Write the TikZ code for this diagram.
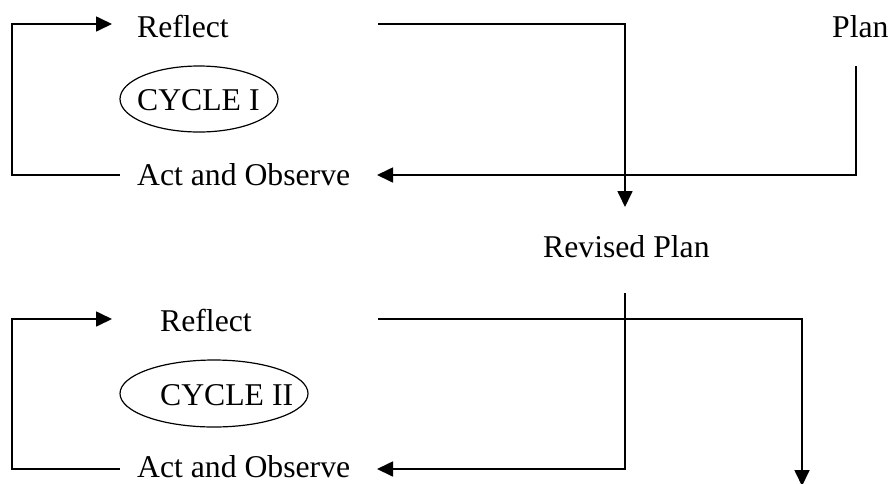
\documentclass[tikz,border=0pt]{standalone}
\usepackage{fontspec}
\setmainfont{Liberation Serif}
\usetikzlibrary{arrows.meta,shapes.geometric}

\tikzset{
  lbl/.style={anchor=base west, inner sep=0pt, font=\fontsize{31.7}{36}\selectfont},
  flow/.style={line width=1.7pt},
  flowarr/.style={flow, -{Triangle[length=16pt,width=15pt]}},
  cyc/.style={draw, ellipse, line width=1.2pt, inner sep=0pt}
}

\begin{document}
\begin{tikzpicture}[x=1pt, y=-1pt]
  \useasboundingbox (0,0) rectangle (891,483);

  % ---- Cycle I ----
  \node[lbl] (reflect1) at (137,37) {Reflect};
  \node[lbl] (act1) at (137,185) {Act and Observe};
  \node[cyc, minimum width=158pt, minimum height=66pt] (ell1) at (199,99) {};
  \node[lbl] (cycle1) at (137,110) {CYCLE I};
  \node[lbl] (plan) at (832,37) {Plan};

  % ---- Cycle II ----
  \node[lbl] (revised) at (543,257) {Revised Plan};
  \node[lbl] (reflect2) at (160,331) {Reflect};
  \node[cyc, minimum width=188pt, minimum height=67pt] (ell2) at (214,393.5) {};
  \node[lbl] (cycle2) at (160,405) {CYCLE II};
  \node[lbl] (act2) at (137,477) {Act and Observe};

  % connector end points and corners
  \coordinate (r1in)   at (112,24);
  \coordinate (r1out)  at (378,24);
  \coordinate (a1out)  at (120,175);
  \coordinate (a1in)   at (377,175);
  \coordinate (lc1)    at (12,175);
  \coordinate (drop1)  at (625,207);
  \coordinate (planft) at (856,66);

  \coordinate (revft)  at (625,293);
  \coordinate (r2in)   at (112,319);
  \coordinate (r2out)  at (378,319);
  \coordinate (a2out)  at (120,469);
  \coordinate (a2in)   at (377,469);
  \coordinate (lc2)    at (12,469);
  \coordinate (drop2)  at (802,486);

  % Cycle I loop
  \draw[flowarr] (a1out) -- (lc1) |- (r1in);
  \draw[flowarr] (r1out) -| (drop1);
  \draw[flowarr] (planft) |- (a1in);

  % Cycle II loop
  \draw[flowarr] (a2out) -- (lc2) |- (r2in);
  \draw[flowarr] (revft) |- (a2in);
  \draw[flowarr] (r2out) -| (drop2);
\end{tikzpicture}
\end{document}
